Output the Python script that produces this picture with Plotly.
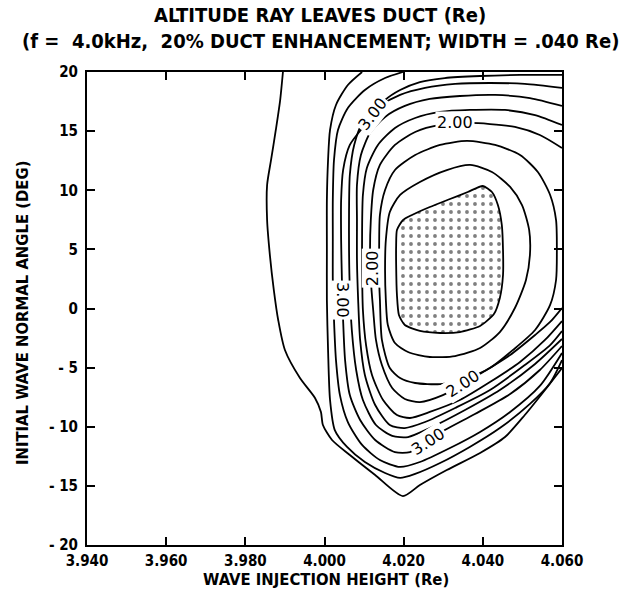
import plotly.graph_objects as go

# Axis ticks
x_ticks = [3.94, 3.96, 3.98, 4.00, 4.02, 4.04, 4.06]
x_tick_text = ["3.940", "3.960", "3.980", "4.000", "4.020", "4.040", "4.060"]
y_ticks = [20, 15, 10, 5, 0, -5, -10, -15, -20]
y_tick_text = ["20", "15", "10", "5", "0", "- 5", "- 10", "- 15", "- 20"]

# Region where the ray stays inside the duct (stippled)
core_x = [4.0183, 4.0198, 4.0221, 4.0266, 4.0317, 4.0362, 4.0400, 4.0423, 4.0438, 4.0448, 4.0451, 4.0451,
          4.0443, 4.0428, 4.0393, 4.0342, 4.0292, 4.0241, 4.0203, 4.0188, 4.0183, 4.0181, 4.0181, 4.0183]
core_y = [6.64, 7.48, 7.91, 8.58, 9.26, 9.85, 10.36, 9.85, 8.75, 7.06, 4.95, 2.83,
          0.89, -0.47, -1.48, -1.99, -2.07, -1.90, -1.40, -0.55, 1.14, 3.68, 5.37, 6.64]

# Contour lines of exit altitude (Re)
alt_150_x = [4.0155, 4.0160, 4.0178, 4.0211, 4.0266, 4.0330, 4.0393, 4.0443, 4.0481, 4.0509, 4.0519, 4.0517,
             4.0499, 4.0469, 4.0423, 4.0368, 4.0309, 4.0241, 4.0191, 4.0165, 4.0155, 4.0153, 4.0155]
alt_150_y = [0.72, -1.40, -2.92, -3.68, -4.10, -4.02, -3.34, -1.99, 0.04, 2.41, 4.52, 6.64,
             8.75, 10.28, 11.54, 12.14, 11.71, 10.70, 9.60, 8.16, 5.79, 3.26, 0.72]

alt_175_x = [4.0140, 4.0145, 4.0165, 4.0191, 4.0229, 4.0292, 4.0360, 4.0418, 4.0476, 4.0532, 4.0570, 4.0585,
             4.0587, 4.0585, 4.0570, 4.0539, 4.0494, 4.0431, 4.0360, 4.0292, 4.0229, 4.0178, 4.0153, 4.0140,
             4.0138, 4.0138, 4.0140]
alt_175_y = [0.72, -2.66, -5.03, -5.88, -6.30, -6.39, -5.88, -5.03, -3.51, -1.82, 0.30, 2.41,
             4.95, 7.48, 9.60, 11.54, 12.98, 13.83, 14.17, 13.83, 12.98, 11.71, 10.02, 7.91,
             4.95, 2.41, 0.72]

alt_200_x = [4.0600, 4.0544, 4.0481, 4.0418, 4.0362, 4.0292, 4.0229, 4.0178, 4.0140, 4.0123, 4.0117, 4.0115,
             4.0117, 4.0123, 4.0130, 4.0145, 4.0171, 4.0203, 4.0241, 4.0299, 4.0350, 4.0405, 4.0469, 4.0532,
             4.0570, 4.0600]
alt_200_y = [13.57, 14.67, 15.35, 15.60, 15.69, 15.52, 14.93, 13.83, 12.14, 10.02, 7.48, 4.95,
             2.41, -0.13, -2.66, -4.78, -6.72, -7.65, -7.91, -7.32, -6.39, -5.29, -3.93, -2.24,
             -1.14, 0.04]

alt_225_x = [4.0600, 4.0532, 4.0456, 4.0367, 4.0292, 4.0229, 4.0178, 4.0135, 4.0107, 4.0097, 4.0095, 4.0095,
             4.0097, 4.0105, 4.0120, 4.0148, 4.0183, 4.0216, 4.0266, 4.0342, 4.0418, 4.0494, 4.0557, 4.0600]
alt_225_y = [15.52, 16.36, 16.79, 16.79, 16.62, 16.11, 15.26, 13.83, 11.88, 9.60, 6.64, 3.26,
             -0.13, -3.09, -5.62, -7.74, -9.01, -9.26, -8.75, -7.74, -6.22, -4.52, -2.66, -1.06]

alt_250_x = [4.0600, 4.0519, 4.0431, 4.0342, 4.0266, 4.0203, 4.0153, 4.0115, 4.0092, 4.0082, 4.0082, 4.0082,
             4.0085, 4.0090, 4.0102, 4.0128, 4.0165, 4.0203, 4.0254, 4.0330, 4.0418, 4.0506, 4.0570, 4.0600]
alt_250_y = [17.13, 17.80, 18.06, 17.97, 17.72, 17.13, 16.20, 14.84, 12.98, 10.44, 7.48, 4.10,
             0.72, -2.66, -5.62, -8.16, -9.85, -10.11, -9.60, -8.41, -6.89, -4.78, -3.09, -1.90]

alt_275_x = [4.0600, 4.0506, 4.0418, 4.0330, 4.0254, 4.0191, 4.0140, 4.0097, 4.0075, 4.0064, 4.0062, 4.0062,
             4.0064, 4.0069, 4.0080, 4.0097, 4.0130, 4.0171, 4.0211, 4.0266, 4.0355, 4.0443, 4.0532, 4.0600]
alt_275_y = [18.65, 18.99, 19.07, 18.99, 18.65, 18.06, 17.13, 15.77, 13.83, 11.29, 8.33, 4.95,
             1.56, -1.82, -5.20, -7.74, -9.85, -10.78, -10.87, -10.11, -8.58, -6.89, -4.69, -2.58]

alt_300_x = [4.0600, 4.0494, 4.0393, 4.0304, 4.0241, 4.0191, 4.0153, 4.0102, 4.0064, 4.0047, 4.0042, 4.0042,
             4.0044, 4.0047, 4.0052, 4.0064, 4.0090, 4.0128, 4.0178, 4.0216, 4.0261, 4.0304, 4.0380, 4.0469,
             4.0544, 4.0600]
alt_300_y = [19.75, 19.75, 19.66, 19.49, 19.15, 18.48, 17.63, 15.52, 13.83, 11.71, 9.18, 5.79,
             2.41, -0.97, -4.36, -7.32, -9.43, -11.12, -12.14, -12.14, -11.21, -10.28, -8.92, -7.23,
             -5.20, -3.17]

alt_325_x = [4.0198, 4.0153, 4.0102, 4.0059, 4.0034, 4.0024, 4.0021, 4.0021, 4.0021, 4.0024, 4.0029, 4.0039,
             4.0059, 4.0095, 4.0140, 4.0191, 4.0241, 4.0317, 4.0393, 4.0469, 4.0544, 4.0600]
alt_325_y = [20.00, 19.49, 18.48, 16.96, 15.10, 12.56, 9.18, 5.79, 2.41, -0.97, -4.36, -7.32,
             -9.60, -11.54, -12.81, -13.40, -12.98, -11.80, -10.44, -8.75, -6.55, -3.76]

alt_350_x = [4.0095, 4.0059, 4.0029, 4.0014, 4.0009, 4.0006, 4.0006, 4.0006, 4.0009, 4.0014, 4.0026, 4.0057,
             4.0102, 4.0153, 4.0191, 4.0229, 4.0292, 4.0367, 4.0443, 4.0519, 4.0570, 4.0600]
alt_350_y = [20.00, 18.90, 17.21, 15.10, 12.56, 9.18, 4.95, 0.72, -3.51, -7.74, -10.28, -11.71,
             -12.98, -13.91, -14.33, -13.99, -13.07, -11.71, -10.11, -8.07, -6.30, -4.36]

alt_375_x = [3.9895, 3.9888, 3.9877, 3.9865, 3.9855, 3.9855, 3.9862, 3.9872, 3.9883, 3.9900, 3.9938, 3.9976,
             3.9991, 3.9996, 4.0019, 4.0064, 4.0128, 4.0198, 4.0241, 4.0309, 4.0393, 4.0456, 4.0506, 4.0557,
             4.0600]
alt_375_y = [20.00, 17.63, 15.10, 12.56, 10.44, 7.48, 4.52, 1.56, -0.97, -3.51, -5.88, -7.57,
             -8.75, -9.85, -11.12, -12.39, -14.08, -15.86, -14.93, -13.66, -12.22, -10.87, -9.01, -6.89,
             -5.03]

contours = [
    (alt_150_x, alt_150_y), (alt_175_x, alt_175_y), (alt_200_x, alt_200_y),
    (alt_225_x, alt_225_y), (alt_250_x, alt_250_y), (alt_275_x, alt_275_y),
    (alt_300_x, alt_300_y), (alt_325_x, alt_325_y), (alt_350_x, alt_350_y),
    (alt_375_x, alt_375_y),
]

# Contour labels: text, x, y, rotation
label_text = ["3.00", "2.00", "2.00", "3.00", "2.00", "3.00"]
label_x = [4.0123, 4.0330, 4.0123, 4.0044, 4.0350, 4.0261]
label_y = [16.45, 15.69, 3.43, 0.72, -6.35, -11.21]
label_angle = [-52, 0, -90, 90, -33, -33]

BOLD = "DejaVu Sans Condensed, DejaVu Sans, Liberation Sans"

W, H = 636, 592
ML, MR, MT, MB = 87, 74, 72, 47
plot_w = W - ML - MR
plot_h = H - MT - MB


def px_to_paper(px):
    return (px - ML) / plot_w


def py_to_paper(py):
    return (H - MB - py) / plot_h


fig = go.Figure()

fig.add_trace(go.Scatter(
    x=core_x, y=core_y, mode="lines", fill="toself",
    fillcolor="white",
    fillpattern=dict(shape=".", fgcolor="black", bgcolor="white", size=8, solidity=0.18),
    line=dict(color="black", width=1.8, shape="spline", smoothing=0.6),
    hoverinfo="skip", showlegend=False,
))

for cx, cy in contours:
    fig.add_trace(go.Scatter(
        x=cx, y=cy, mode="lines",
        line=dict(color="black", width=1.8, shape="spline", smoothing=0.7),
        hoverinfo="skip", showlegend=False,
    ))

for t, lx, ly, la in zip(label_text, label_x, label_y, label_angle):
    fig.add_annotation(
        x=lx, y=ly, xref="x", yref="y", text=t, textangle=la,
        showarrow=False, bgcolor="white", borderpad=1,
        xanchor="center", yanchor="middle",
        font=dict(family="DejaVu Sans", size=16, color="black"),
    )

titles = [
    ("<b>ALTITUDE RAY LEAVES DUCT (Re)</b>", 320, 15, 0, 20),
    ("<b>(f =  4.0kHz,  20% DUCT ENHANCEMENT; WIDTH = .040 Re)</b>", 320, 41, 0, 20),
    ("<b>WAVE INJECTION HEIGHT (Re)</b>", 326, 579, 0, 16.5),
    ("<b>INITIAL WAVE NORMAL ANGLE (DEG)</b>", 22, 313, -90, 16.5),
]
for text, px, py, ang, size in titles:
    fig.add_annotation(
        x=px_to_paper(px), y=py_to_paper(py), xref="paper", yref="paper",
        xanchor="center", yanchor="middle", text=text, textangle=ang,
        showarrow=False, font=dict(family=BOLD, size=size, color="black"),
    )

fig.update_layout(
    width=W, height=H,
    margin=dict(l=ML, r=MR, t=MT, b=MB),
    paper_bgcolor="white", plot_bgcolor="white",
)

fig.update_xaxes(
    range=[3.94, 4.06], tickvals=x_ticks, ticktext=[f"<b>{t}</b>" for t in x_tick_text],
    ticks="inside", ticklen=8, tickwidth=2, tickcolor="black",
    showline=True, linewidth=2, linecolor="black", mirror="ticks",
    showgrid=False, zeroline=False, ticklabelstandoff=1,
    tickfont=dict(family=BOLD, size=15, color="black"),
)
fig.update_yaxes(
    range=[-20, 20], tickvals=y_ticks, ticktext=[f"<b>{t}</b>" for t in y_tick_text],
    ticks="inside", ticklen=8, tickwidth=2, tickcolor="black",
    showline=True, linewidth=2, linecolor="black", mirror="ticks",
    showgrid=False, zeroline=False, ticklabelstandoff=4,
    tickfont=dict(family=BOLD, size=15, color="black"),
)

fig.write_html("out.html")
